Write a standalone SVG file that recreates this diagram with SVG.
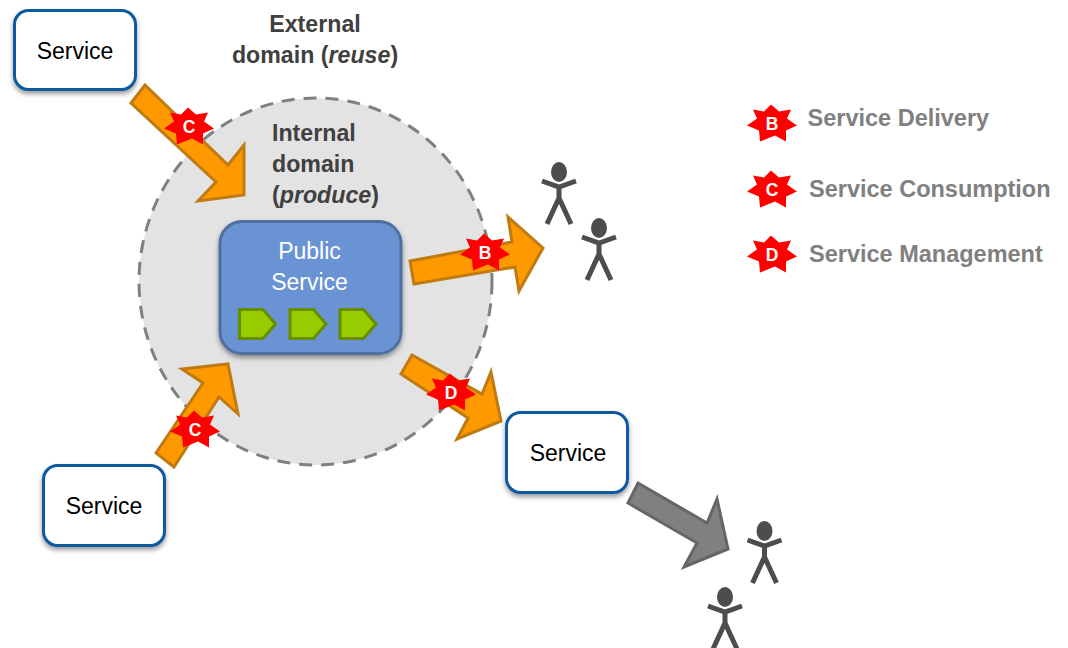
<svg xmlns="http://www.w3.org/2000/svg" xmlns:xlink="http://www.w3.org/1999/xlink" width="1068" height="648" viewBox="0 0 1068 648">
<style>
text{font-family:"Liberation Sans",Arial,sans-serif}
.svc{fill:#fff;stroke:#0f5a9f;stroke-width:3;filter:url(#sh)}
.lbl{font-size:23px;fill:#000;text-anchor:middle}
.dom{font-size:23.2px;font-weight:bold;fill:#404040}
.mid{text-anchor:middle}
.pub{font-size:23px;fill:#fff;text-anchor:middle}
.arr{fill:#ff9900;stroke:#bf7a12;stroke-width:3;stroke-linejoin:miter}
.gry{fill:#808080;stroke:#666;stroke-width:3}
.chev{fill:#99cc00;stroke:#668c00;stroke-width:3}
.star{fill:#ff0000}
.let{font-size:17.5px;font-weight:bold;fill:#fff;text-anchor:middle}
.leg{font-size:23.5px;font-weight:bold;fill:#808080}
.fig{fill:none;stroke:#4d4d4d;stroke-width:5}
.head{fill:#4d4d4d}
</style>
<defs>
<filter id="sh" x="-20%" y="-20%" width="140%" height="150%"><feDropShadow dx="0" dy="3" stdDeviation="2.5" flood-color="#000" flood-opacity="0.4"/></filter>
<polygon id="st" class="star" points="-1,-19 7,-12 19,-14 15,-5 25,2 14,7 14,18 3,12 -12,18 -13,7 -25,2 -15,-5 -19,-14 -8,-12"/>
<g id="person">
<ellipse class="head" cx="0" cy="0" rx="8" ry="10"/>
<path class="fig" d="M-17,9 L0,15 L17,9 M0,15 V26 M-12,52 L0,26 L12,52"/>
</g>
</defs>
<g id="external-domain">
<text class="dom mid" x="315" y="32">External</text>
<text class="dom mid" x="315" y="63">domain (<tspan font-style="italic">reuse</tspan>)</text>
</g>
<g id="internal-domain">
<ellipse cx="315.500" cy="281.500" rx="176.500" ry="183.500" fill="#e3e3e3" stroke="#808080" stroke-width="3" stroke-dasharray="13 9"/>
<text class="dom" x="272" y="141">Internal</text>
<text class="dom" x="272" y="172">domain</text>
<text class="dom" x="272" y="203">(<tspan font-style="italic">produce</tspan>)</text>
</g>
<g id="connectors">
<polygon class="arr" points="145,85 228,165 244,145 244,195 198,201 216,182 131,103"/>
<polygon class="arr" points="410,261 512,242 508,217 543,248 519,291 515,267 414,284"/>
<polygon class="arr" points="412,355 482,394 491,372 501,421 457,439 468,418 401,374"/>
<polygon class="arr" points="156,453 203,383 182,369 228,364 238,414 219,397 174,467"/>
<polygon class="gry" points="638,483 707,523 717,499 728,549 684,567 697,543 628,503"/>
</g>
<g id="service-1"><rect class="svc" x="14.500" y="10.500" width="121" height="79" rx="14"/><text class="lbl" x="75" y="59">Service</text></g>
<g id="service-2"><rect class="svc" x="43.500" y="465.500" width="121" height="80" rx="14"/><text class="lbl" x="104" y="514">Service</text></g>
<g id="service-3"><rect class="svc" x="506.500" y="412.500" width="121" height="80" rx="14"/><text class="lbl" x="568" y="461">Service</text></g>
<g id="public-service">
<rect x="220" y="221.500" width="181" height="132" rx="22" fill="#6b93d3" stroke="#4f6f9f" stroke-width="3" filter="url(#sh)"/>
<text class="pub" x="309.500" y="259">Public</text>
<text class="pub" x="309.500" y="290">Service</text>
<polygon class="chev" points="239.500,309.500 263,309.500 275.500,324 263,338.500 239.500,338.500"/>
<polygon class="chev" points="290,309.500 313.500,309.500 326,324 313.500,338.500 290,338.500"/>
<polygon class="chev" points="340,309.500 363.500,309.500 376,324 363.500,338.500 340,338.500"/>
</g>
<g id="badge-c-top"><use xlink:href="#st" href="#st" x="189" y="126.500"/><text class="let" x="189" y="133">C</text></g>
<g id="badge-b"><use xlink:href="#st" href="#st" x="485" y="252.500"/><text class="let" x="485" y="259">B</text></g>
<g id="badge-d"><use xlink:href="#st" href="#st" x="451" y="392.500"/><text class="let" x="451" y="399">D</text></g>
<g id="badge-c-bottom"><use xlink:href="#st" href="#st" x="195" y="429.500"/><text class="let" x="195" y="436">C</text></g>
<g id="person-1"><use xlink:href="#person" href="#person" x="559" y="172"/></g>
<g id="person-2"><use xlink:href="#person" href="#person" x="599" y="228"/></g>
<g id="person-3"><use xlink:href="#person" href="#person" x="764.500" y="531"/></g>
<g id="person-4"><use xlink:href="#person" href="#person" x="725" y="597"/></g>
<g id="legend-b"><use xlink:href="#st" href="#st" x="772" y="123.500"/><text class="let" x="772" y="130">B</text><text class="leg" x="807.500" y="126">Service Delivery</text></g>
<g id="legend-c"><use xlink:href="#st" href="#st" x="772" y="189.500"/><text class="let" x="772" y="196">C</text><text class="leg" x="809" y="197">Service Consumption</text></g>
<g id="legend-d"><use xlink:href="#st" href="#st" x="772" y="254.500"/><text class="let" x="772" y="261">D</text><text class="leg" x="809" y="262">Service Management</text></g>
</svg>
